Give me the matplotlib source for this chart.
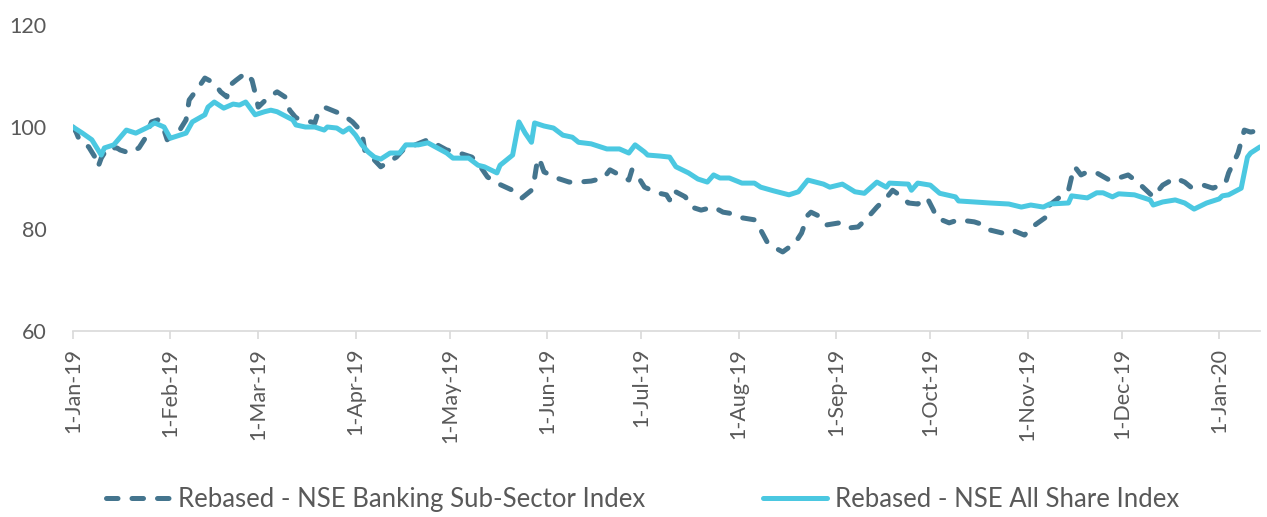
import pandas as pd
import matplotlib
import matplotlib.pyplot as plt
import matplotlib.dates as mdates

matplotlib.use('agg')

# NSE All Share Index, rebased to 100
allshare_dates = [
    '2019-01-01', '2019-01-04', '2019-01-07', '2019-01-10', '2019-01-11', '2019-01-14',
    '2019-01-18', '2019-01-21', '2019-01-25', '2019-01-27', '2019-01-30', '2019-02-01',
    '2019-02-06', '2019-02-08', '2019-02-12', '2019-02-13', '2019-02-15', '2019-02-18',
    '2019-02-21', '2019-02-23', '2019-02-25', '2019-02-28', '2019-03-03', '2019-03-05',
    '2019-03-07', '2019-03-12', '2019-03-13', '2019-03-16', '2019-03-19', '2019-03-22',
    '2019-03-23', '2019-03-26', '2019-03-28', '2019-03-30', '2019-04-01', '2019-04-03',
    '2019-04-05', '2019-04-07', '2019-04-09', '2019-04-12', '2019-04-15', '2019-04-17',
    '2019-04-21', '2019-04-24', '2019-04-27', '2019-04-30', '2019-05-02', '2019-05-07',
    '2019-05-10', '2019-05-12', '2019-05-16', '2019-05-17', '2019-05-21', '2019-05-23',
    '2019-05-25', '2019-05-27', '2019-05-28', '2019-05-31', '2019-06-03', '2019-06-06',
    '2019-06-09', '2019-06-11', '2019-06-15', '2019-06-20', '2019-06-24', '2019-06-27',
    '2019-06-29', '2019-07-02', '2019-07-03', '2019-07-07', '2019-07-10', '2019-07-12',
    '2019-07-16', '2019-07-19', '2019-07-22', '2019-07-24', '2019-07-26', '2019-07-29',
    '2019-08-02', '2019-08-06', '2019-08-08', '2019-08-12', '2019-08-17', '2019-08-20',
    '2019-08-23', '2019-08-28', '2019-08-30', '2019-09-03', '2019-09-07', '2019-09-10',
    '2019-09-14', '2019-09-17', '2019-09-18', '2019-09-24', '2019-09-25', '2019-09-27',
    '2019-10-01', '2019-10-04', '2019-10-09', '2019-10-10', '2019-10-15', '2019-10-20',
    '2019-10-26', '2019-10-30', '2019-11-02', '2019-11-06', '2019-11-08', '2019-11-14',
    '2019-11-15', '2019-11-20', '2019-11-23', '2019-11-25', '2019-11-28', '2019-11-30',
    '2019-12-05', '2019-12-10', '2019-12-11', '2019-12-14', '2019-12-18', '2019-12-21',
    '2019-12-24', '2019-12-28', '2020-01-01', '2020-01-02', '2020-01-04', '2020-01-08',
    '2020-01-10', '2020-01-11', '2020-01-14',
]
allshare_values = [
    100.0, 98.8, 97.5, 94.5, 95.9, 96.5,
    99.4, 98.8, 100.0, 100.8, 100.0, 97.8,
    98.8, 101.0, 102.4, 103.9, 104.9, 103.7,
    104.5, 104.3, 104.9, 102.4, 103.0, 103.3,
    103.0, 101.4, 100.4, 100.0, 100.0, 99.4,
    100.0, 99.8, 99.0, 99.8, 98.4, 96.5,
    95.1, 94.1, 93.7, 94.9, 94.9, 96.5,
    96.5, 96.9, 95.9, 94.9, 93.9, 93.9,
    92.5, 92.2, 91.0, 92.5, 94.5, 101.0,
    98.8, 97.0, 100.8, 100.2, 99.8, 98.4,
    98.0, 97.0, 96.7, 95.7, 95.7, 94.9,
    96.5, 95.1, 94.5, 94.3, 94.1, 92.2,
    91.0, 89.8, 89.2, 90.6, 90.0, 90.0,
    89.0, 89.0, 88.2, 87.5, 86.7, 87.3,
    89.6, 88.8, 88.2, 88.8, 87.3, 87.0,
    89.2, 88.2, 89.0, 88.8, 87.6, 89.0,
    88.6, 87.0, 86.3, 85.5, 85.3, 85.1,
    84.9, 84.3, 84.7, 84.3, 84.9, 85.1,
    86.5, 86.1, 87.1, 87.1, 86.3, 86.9,
    86.7, 85.7, 84.7, 85.3, 85.7, 85.1,
    83.9, 85.1, 85.9, 86.5, 86.7, 88.0,
    94.1, 94.9, 96.1,
]

# NSE Banking Sub-Sector Index, rebased to 100
banking_dates = [
    '2019-01-01', '2019-01-02', '2019-01-03', '2019-01-06', '2019-01-08', '2019-01-09',
    '2019-01-10', '2019-01-12', '2019-01-15', '2019-01-16', '2019-01-19', '2019-01-22',
    '2019-01-24', '2019-01-26', '2019-01-28', '2019-01-30', '2019-01-31', '2019-02-04',
    '2019-02-06', '2019-02-07', '2019-02-10', '2019-02-12', '2019-02-15', '2019-02-17',
    '2019-02-19', '2019-02-20', '2019-02-22', '2019-02-25', '2019-02-27', '2019-02-28',
    '2019-03-01', '2019-03-04', '2019-03-07', '2019-03-10', '2019-03-11', '2019-03-13',
    '2019-03-19', '2019-03-20', '2019-03-22', '2019-03-26', '2019-03-28', '2019-03-31',
    '2019-04-03', '2019-04-04', '2019-04-07', '2019-04-09', '2019-04-14', '2019-04-17',
    '2019-04-20', '2019-04-24', '2019-04-27', '2019-04-30', '2019-05-03', '2019-05-08',
    '2019-05-10', '2019-05-13', '2019-05-16', '2019-05-22', '2019-05-24', '2019-05-27',
    '2019-05-28', '2019-05-29', '2019-05-30', '2019-05-31', '2019-06-04', '2019-06-08',
    '2019-06-11', '2019-06-15', '2019-06-19', '2019-06-21', '2019-06-24', '2019-06-27',
    '2019-06-28', '2019-06-30', '2019-07-02', '2019-07-06', '2019-07-09', '2019-07-10',
    '2019-07-11', '2019-07-15', '2019-07-17', '2019-07-20', '2019-07-24', '2019-07-27',
    '2019-07-29', '2019-08-02', '2019-08-06', '2019-08-08', '2019-08-10', '2019-08-12',
    '2019-08-15', '2019-08-19', '2019-08-21', '2019-08-23', '2019-08-24', '2019-08-27',
    '2019-08-29', '2019-09-02', '2019-09-05', '2019-09-08', '2019-09-11', '2019-09-14',
    '2019-09-17', '2019-09-19', '2019-09-22', '2019-09-24', '2019-09-27', '2019-09-30',
    '2019-10-02', '2019-10-03', '2019-10-07', '2019-10-10', '2019-10-15', '2019-10-18',
    '2019-10-20', '2019-10-24', '2019-10-27', '2019-10-31', '2019-11-02', '2019-11-07',
    '2019-11-08', '2019-11-14', '2019-11-15', '2019-11-16', '2019-11-18', '2019-11-20',
    '2019-11-23', '2019-11-27', '2019-11-30', '2019-12-03', '2019-12-06', '2019-12-11',
    '2019-12-14', '2019-12-18', '2019-12-21', '2019-12-23', '2019-12-27', '2019-12-30',
    '2020-01-03', '2020-01-04', '2020-01-07', '2020-01-09', '2020-01-11', '2020-01-14',
]
banking_values = [
    100.0, 99.0, 97.5, 96.1, 94.1, 92.2,
    93.9, 95.9, 95.9, 95.5, 94.9, 95.9,
    97.8, 101.0, 101.4, 99.4, 97.5, 99.4,
    101.4, 105.3, 107.8, 109.6, 108.6, 106.9,
    105.9, 108.2, 109.2, 110.6, 109.2, 106.7,
    103.9, 105.7, 106.9, 105.7, 103.3, 101.8,
    100.8, 102.7, 103.9, 102.9, 102.4, 101.0,
    99.0, 95.1, 93.5, 92.2, 94.1, 96.1,
    96.5, 97.5, 96.5, 95.5, 95.1, 94.1,
    92.9, 90.2, 89.0, 87.3, 86.1, 87.6,
    90.0, 93.9, 92.9, 91.2, 90.0, 89.2,
    89.2, 89.4, 90.0, 91.6, 90.6, 89.6,
    91.6, 90.2, 88.2, 87.1, 86.7, 85.7,
    87.6, 86.3, 84.3, 83.7, 84.3, 83.3,
    83.1, 82.2, 81.8, 79.8, 77.5, 76.5,
    75.5, 77.3, 79.2, 82.7, 83.3, 82.4,
    80.8, 81.2, 80.2, 80.4, 82.2, 84.3,
    86.1, 87.6, 86.3, 85.1, 84.9, 86.1,
    83.7, 82.2, 81.2, 81.8, 81.4, 80.8,
    79.8, 79.2, 79.8, 78.8, 80.2, 82.4,
    84.7, 87.6, 90.2, 92.2, 90.6, 91.2,
    91.0, 89.6, 90.0, 90.6, 89.2, 86.3,
    88.6, 90.0, 89.2, 88.2, 88.6, 88.0,
    89.0, 91.0, 94.9, 99.4, 99.0, 99.4,
]

yticks = [60, 80, 100, 120]

plt.rcParams['font.family'] = ['Lato', 'DejaVu Sans']
text_color = '#595959'

fig = plt.figure(figsize=(12.67, 5.17), dpi=100)
ax = fig.add_axes([0.0576, 0.3598, 0.9369, 0.5918])

ax.plot(pd.to_datetime(banking_dates), banking_values, color='#44758e', lw=3.6,
        dashes=(2.3, 2.8), dash_capstyle='round', solid_capstyle='round',
        label='Rebased - NSE Banking Sub-Sector Index')
ax.plot(pd.to_datetime(allshare_dates), allshare_values, color='#4bc8e1', lw=3.6,
        solid_capstyle='round', solid_joinstyle='round',
        label='Rebased - NSE All Share Index')

ax.set_ylim(60, 120)
ax.set_yticks(yticks)
ax.set_xlim(pd.Timestamp('2019-01-01'), pd.Timestamp('2020-01-14'))
ax.xaxis.set_major_locator(mdates.MonthLocator())
ax.xaxis.set_major_formatter(mdates.DateFormatter('%-d-%b-%y'))

for s in ['top', 'right', 'left']:
    ax.spines[s].set_visible(False)
ax.spines['bottom'].set_color('#d9d9d9')
ax.spines['bottom'].set_linewidth(1.2)

ax.tick_params(axis='y', length=0, pad=19, labelsize=15.5, labelcolor=text_color)
ax.tick_params(axis='x', length=6, width=1.2, color='#d9d9d9', pad=6,
               labelsize=15.5, labelcolor=text_color, labelrotation=90)

leg = fig.legend(loc='lower center', bbox_to_anchor=(0.507, -0.035), ncol=2, frameon=False,
                 fontsize=18.5, handlelength=2.5, columnspacing=4.6, handletextpad=0.3)
for t in leg.get_texts():
    t.set_color(text_color)

plt.savefig('out.png', dpi=100)
